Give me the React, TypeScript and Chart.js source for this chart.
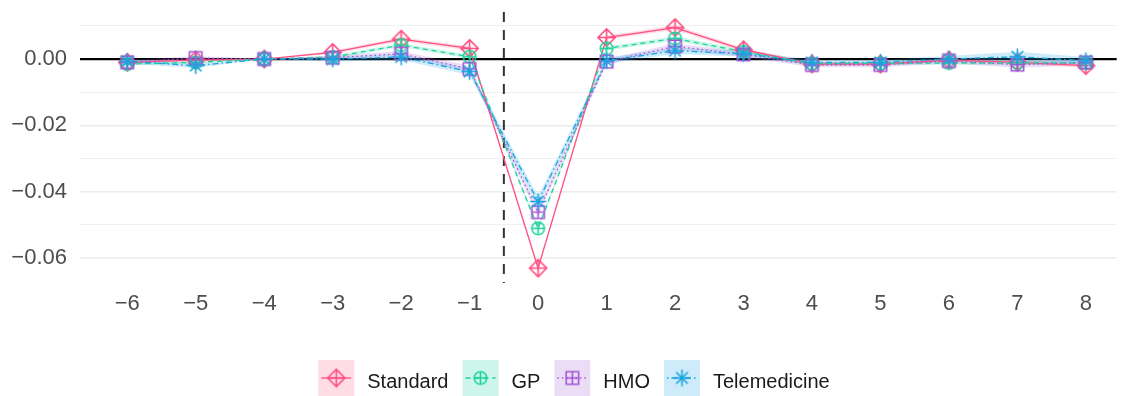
import React, { useEffect, useRef } from "react";
import { Chart, registerables } from "chart.js";

Chart.register(...registerables);

// ---------- data ----------
const periods = [-6, -5, -4, -3, -2, -1, 0, 1, 2, 3, 4, 5, 6, 7, 8];
const xTickLabels = ["−6", "−5", "−4", "−3", "−2", "−1", "0", "1", "2", "3", "4", "5", "6", "7", "8"];
const yTickValues = [-0.06, -0.05, -0.04, -0.03, -0.02, -0.01, 0, 0.01];
const yTickLabels = ["−0.06", "", "−0.04", "", "−0.02", "", "0.00", ""];
const seriesNames = ["Standard", "GP", "HMO", "Telemedicine"];

const standardValues = [-0.001, -0.0003, 0, 0.002, 0.006, 0.0032, -0.0631, 0.0065, 0.0095, 0.0028, -0.0015, -0.0015, -0.0003, -0.001, -0.002];
const gpValues = [-0.0015, -0.001, 0, 0.0006, 0.0042, 0.0007, -0.0511, 0.0032, 0.0062, 0.0022, -0.0014, -0.0013, -0.0012, -0.0012, -0.0012];
const hmoValues = [-0.001, 0.0003, 0, 0.0004, 0.0016, -0.003, -0.0462, -0.0008, 0.0038, 0.0014, -0.0018, -0.0018, -0.0006, -0.0017, -0.001];
const teleValues = [-0.0007, -0.002, 0, 0.0, 0.0006, -0.0038, -0.043, -0.0005, 0.0025, 0.0016, -0.001, -0.001, 0.0, 0.0007, -0.0005];

// confidence half-widths read from the shaded ribbons
const standardCi = [0.0004, 0.0004, 0, 0.0005, 0.0006, 0.0006, 0.0008, 0.0006, 0.0007, 0.0006, 0.0005, 0.0005, 0.0005, 0.0006, 0.0006];
const gpCi = [0.0004, 0.0004, 0, 0.0005, 0.0006, 0.0006, 0.0008, 0.0006, 0.0007, 0.0006, 0.0005, 0.0005, 0.0005, 0.0006, 0.0006];
const hmoCi = [0.0006, 0.0006, 0, 0.0007, 0.0008, 0.0009, 0.0012, 0.0008, 0.0009, 0.0008, 0.0007, 0.0007, 0.0007, 0.0009, 0.0009];
const teleCi = [0.0007, 0.0007, 0, 0.0008, 0.0009, 0.001, 0.0015, 0.0009, 0.001, 0.0009, 0.0008, 0.0008, 0.0009, 0.0015, 0.0011];

const eventLine = -0.5;

// ---------- styles ----------
const colors = ["#FF4F81", "#1DD39C", "#A157D4", "#1AA3E0"];
const fills = ["rgba(255,79,129,0.2)", "rgba(29,211,156,0.22)", "rgba(161,87,212,0.2)", "rgba(26,163,224,0.22)"];
const dashes: number[][] = [[], [5, 4], [1.5, 3], [1.5, 3, 6, 3]];
const shapes = ["diamondPlus", "circlePlus", "squarePlus", "asterisk"];
const FONT = '"Liberation Sans", Arial, sans-serif';

function makeMarker(shape: string, color: string): HTMLCanvasElement {
  const S = 21;
  const c = document.createElement("canvas");
  c.width = S;
  c.height = S;
  const ctx = c.getContext("2d")!;
  const m = S / 2;
  ctx.strokeStyle = color;
  ctx.lineWidth = 1.6;
  ctx.beginPath();
  if (shape === "diamondPlus") {
    const r = 8.6;
    ctx.moveTo(m, m - r);
    ctx.lineTo(m + r, m);
    ctx.lineTo(m, m + r);
    ctx.lineTo(m - r, m);
    ctx.closePath();
    ctx.moveTo(m, m - r);
    ctx.lineTo(m, m + r);
    ctx.moveTo(m - r, m);
    ctx.lineTo(m + r, m);
  } else if (shape === "circlePlus") {
    const r = 6.3;
    ctx.arc(m, m, r, 0, Math.PI * 2);
    ctx.moveTo(m, m - r);
    ctx.lineTo(m, m + r);
    ctx.moveTo(m - r, m);
    ctx.lineTo(m + r, m);
  } else if (shape === "squarePlus") {
    const h = 6.2;
    ctx.rect(m - h, m - h, 2 * h, 2 * h);
    ctx.moveTo(m, m - h);
    ctx.lineTo(m, m + h);
    ctx.moveTo(m - h, m);
    ctx.lineTo(m + h, m);
  } else {
    const r = 8.2;
    for (let k = 0; k < 4; k++) {
      const a = (k * Math.PI) / 4;
      ctx.moveTo(m - r * Math.cos(a), m - r * Math.sin(a));
      ctx.lineTo(m + r * Math.cos(a), m + r * Math.sin(a));
    }
  }
  ctx.stroke();
  return c;
}

export default function App() {
  const ref = useRef<HTMLCanvasElement | null>(null);

  useEffect(() => {
    document.body.style.margin = "0";
    const canvas = ref.current!;
    const values = [standardValues, gpValues, hmoValues, teleValues];
    const cis = [standardCi, gpCi, hmoCi, teleCi];
    const markers = shapes.map((s, i) => makeMarker(s, colors[i]));

    const lineSets: any[] = [];
    for (let i = 3; i >= 0; i--) {
      lineSets.push({
        label: seriesNames[i],
        data: periods.map((p, k) => ({ x: p, y: values[i][k] })),
        borderColor: colors[i],
        borderWidth: 1.3,
        borderDash: dashes[i],
        pointStyle: markers[i],
        pointRadius: 8,
        pointHoverRadius: 8,
        fill: false,
        tension: 0,
      });
    }
    const ribbonSets: any[] = [];
    for (let i = 3; i >= 0; i--) {
      ribbonSets.push({
        label: seriesNames[i] + " upper",
        data: periods.map((p, k) => ({ x: p, y: values[i][k] + cis[i][k] })),
        borderColor: "rgba(0,0,0,0)",
        borderWidth: 0,
        pointRadius: 0,
        fill: false,
      });
      ribbonSets.push({
        label: seriesNames[i] + " lower",
        data: periods.map((p, k) => ({ x: p, y: values[i][k] - cis[i][k] })),
        borderColor: "rgba(0,0,0,0)",
        borderWidth: 0,
        pointRadius: 0,
        backgroundColor: fills[i],
        fill: "-1",
      });
    }

    const decorPlugin = {
      id: "decor",
      beforeDatasetsDraw(chart: any) {
        const { ctx, chartArea, scales } = chart;
        const x = scales.x.getPixelForValue(eventLine);
        ctx.save();
        ctx.strokeStyle = "#333333";
        ctx.lineWidth = 2;
        ctx.setLineDash([10, 8]);
        ctx.beginPath();
        ctx.moveTo(x, chartArea.top + 2);
        ctx.lineTo(x, chartArea.bottom);
        ctx.stroke();
        ctx.restore();
      },
      afterDraw(chart: any) {
        const { ctx } = chart;
        ctx.save();
        ctx.font = `20px ${FONT}`;
        const box = 36;
        const gapText = 13;
        const gapItem = 14;
        const widths = seriesNames.map((n) => ctx.measureText(n).width);
        const total = widths.reduce((a, w) => a + box + gapText + w, 0) + gapItem * (seriesNames.length - 1);
        let x = 574 - total / 2;
        const top = 360;
        const cy = top + box / 2;
        seriesNames.forEach((name, i) => {
          ctx.fillStyle = fills[i];
          ctx.fillRect(x, top, box, box);
          ctx.strokeStyle = colors[i];
          ctx.lineWidth = 1.3;
          ctx.setLineDash(dashes[i]);
          ctx.beginPath();
          ctx.moveTo(x + 3, cy);
          ctx.lineTo(x + box - 3, cy);
          ctx.stroke();
          ctx.setLineDash([]);
          const mk = markers[i];
          ctx.drawImage(mk, x + box / 2 - mk.width / 2, cy - mk.height / 2);
          ctx.fillStyle = "#1A1A1A";
          ctx.textBaseline = "alphabetic";
          ctx.textAlign = "left";
          ctx.fillText(name, x + box + gapText, cy + 10);
          x += box + gapText + widths[i] + gapItem;
        });
        ctx.restore();
      },
    };

    const chart = new Chart(canvas, {
      type: "line",
      data: { datasets: [...lineSets, ...ribbonSets] },
      options: {
        responsive: false,
        animation: false,
        devicePixelRatio: 1,
        layout: { padding: { top: 10, right: 2, left: 0, bottom: 0 } },
        plugins: { legend: { display: false }, tooltip: { enabled: false } },
        scales: {
          x: {
            type: "linear",
            min: -6.69,
            max: 8.45,
            afterBuildTicks: (s: any) => {
              s.ticks = periods.map((v) => ({ value: v }));
            },
            afterFit: (s: any) => {
              s.height = 113;
              s.paddingLeft = 0;
              s.paddingRight = 0;
            },
            grid: { display: false, drawTicks: false },
            border: { display: false },
            ticks: {
              padding: 8,
              autoSkip: false,
              maxRotation: 0,
              font: { family: FONT, size: 22 },
              color: "#4D4D4D",
              callback: (v: any) => xTickLabels[periods.indexOf(v)],
            },
          },
          y: {
            type: "linear",
            min: -0.0676,
            max: 0.0148,
            afterBuildTicks: (s: any) => {
              s.ticks = yTickValues.map((v) => ({ value: v }));
            },
            afterFit: (s: any) => {
              s.width = 80;
              s.paddingTop = 0;
              s.paddingBottom = 0;
            },
            grid: {
              drawTicks: false,
              color: (c: any) => {
                const v = c.tick && c.tick.value;
                if (v === 0) return "#000000";
                const idx = yTickValues.indexOf(v);
                return yTickLabels[idx] ? "#EBEBEB" : "#F0F0F0";
              },
              lineWidth: (c: any) => {
                const v = c.tick && c.tick.value;
                if (v === 0) return 2.2;
                const idx = yTickValues.indexOf(v);
                return yTickLabels[idx] ? 1.4 : 1;
              },
            },
            border: { display: false },
            ticks: {
              padding: 13,
              font: { family: FONT, size: 22 },
              color: "#4D4D4D",
              callback: (v: any) => yTickLabels[yTickValues.indexOf(v)],
            },
          },
        },
      },
      plugins: [decorPlugin],
    } as any);

    return () => chart.destroy();
  }, []);

  return <canvas ref={ref} width={1126} height={396} style={{ display: "block" }} />;
}
